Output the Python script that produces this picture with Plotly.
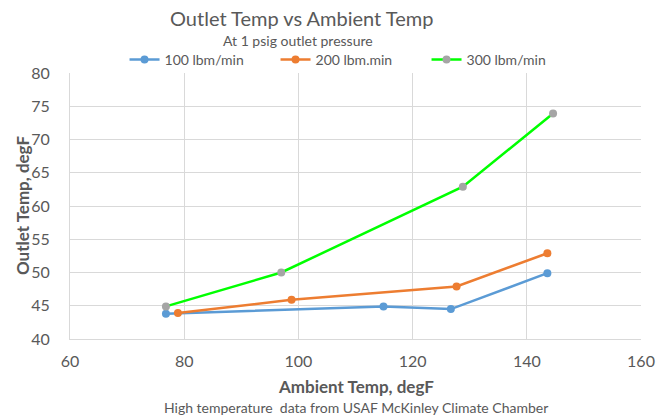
import plotly.graph_objects as go

# Data
x_100 = [76.8, 114.9, 126.7, 143.6]
y_100 = [43.8, 44.9, 44.5, 49.9]
x_200 = [78.9, 98.8, 127.7, 143.6]
y_200 = [43.9, 45.9, 47.9, 52.9]
x_300 = [76.8, 97.0, 128.8, 144.6]
y_300 = [44.9, 50.0, 62.9, 73.9]

names = ["100 lbm/min", "200 lbm.min", "300 lbm/min"]
line_colors = ["#5B9BD5", "#ED7D31", "#00FF00"]
marker_colors = ["#5B9BD5", "#ED7D31", "#A5A5A5"]

x_ticks = [60, 80, 100, 120, 140, 160]
y_ticks = [40, 45, 50, 55, 60, 65, 70, 75, 80]

FONT = "Lato, 'Open Sans', sans-serif"
TXT = "#595959"
GRID = "#D9D9D9"

fig = go.Figure()
for xs, ys, nm, lc, mc in zip([x_100, x_200, x_300], [y_100, y_200, y_300],
                              names, line_colors, marker_colors):
    fig.add_trace(go.Scatter(
        x=xs, y=ys, name=nm, mode="lines+markers",
        line=dict(color=lc, width=2.5),
        marker=dict(color=mc, size=8),
    ))

fig.update_layout(
    width=667, height=420,
    margin=dict(l=70, r=24, t=73, b=81),
    paper_bgcolor="white", plot_bgcolor="white",
    font=dict(family=FONT, color=TXT),
    showlegend=True,
    legend=dict(orientation="h", x=0.0955, xanchor="left", y=1.049, yanchor="middle",
                font=dict(size=14, color=TXT), entrywidth=106,
                bgcolor="rgba(0,0,0,0)", itemwidth=30),
    xaxis=dict(range=[60, 160], tickvals=x_ticks, showgrid=True, gridcolor=GRID,
               gridwidth=1, zeroline=False, showline=True, linecolor=GRID, linewidth=1,
               tickfont=dict(size=16, color=TXT), ticks="", ticklabelstandoff=8),
    yaxis=dict(range=[40, 80], tickvals=y_ticks, showgrid=True, gridcolor=GRID,
               gridwidth=1, zeroline=False, showline=True, linecolor=GRID, linewidth=1,
               tickfont=dict(size=16, color=TXT), ticks="", ticklabelstandoff=16),
    annotations=[
        dict(text="Outlet Temp vs Ambient Temp", xref="paper", yref="paper",
             x=0.405, y=1.208, xanchor="center", yanchor="middle", showarrow=False,
             font=dict(size=20, color=TXT)),
        dict(text="At 1 psig outlet pressure", xref="paper", yref="paper",
             x=0.4, y=1.124, xanchor="center", yanchor="middle", showarrow=False,
             font=dict(size=14, color=TXT)),
        dict(text="<b>Ambient Temp, degF</b>", xref="paper", yref="paper",
             x=0.5, y=-0.180, xanchor="center", yanchor="middle", showarrow=False,
             font=dict(size=17, color=TXT)),
        dict(text="High temperature  data from USAF McKinley Climate Chamber", xref="paper",
             yref="paper", x=0.5, y=-0.259, xanchor="center", yanchor="middle",
             showarrow=False, font=dict(size=14, color=TXT)),
        dict(text="<b>Outlet Temp, degF</b>", xref="paper", yref="paper",
             x=-0.084, y=0.5, xanchor="center", yanchor="middle", textangle=-90,
             showarrow=False, font=dict(size=17, color=TXT)),
    ],
)

fig.write_html("out.html", config={"displayModeBar": False},
               post_script="document.body.style.margin='0';document.body.style.overflow='hidden';")
